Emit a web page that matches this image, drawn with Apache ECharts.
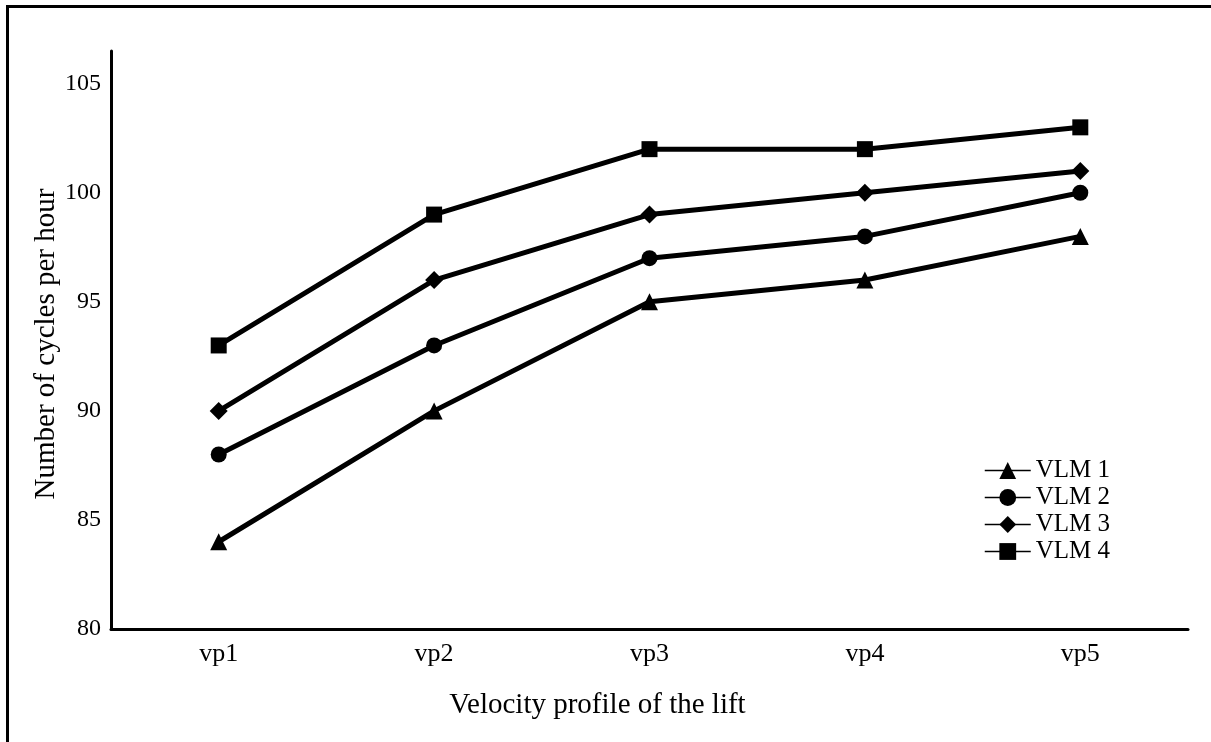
<!DOCTYPE html>
<html>
<head>
<meta charset="utf-8">
<script src="https://cdn.jsdelivr.net/npm/echarts@6/dist/echarts.min.js"></script>
<style>html,body{margin:0;padding:0;background:#fff}#c{width:1211px;height:742px}</style>
</head>
<body>
<div id="c"></div>
<script>
const categories = ['vp1', 'vp2', 'vp3', 'vp4', 'vp5'];
const seriesNames = ['VLM 1', 'VLM 2', 'VLM 3', 'VLM 4'];
const vlm1 = [84, 90, 95, 96, 98];
const vlm2 = [88, 93, 97, 98, 100];
const vlm3 = [90, 96, 99, 100, 101];
const vlm4 = [93, 99, 102, 102, 103];
const symbols = ['triangle', 'circle', 'diamond', 'rect'];

const font = 'Liberation Serif';
const chart = echarts.init(document.getElementById('c'));
const dataList = [vlm1, vlm2, vlm3, vlm4];
const symSizes = [17, 16, 18, 16];
chart.setOption({
  animation: false,
  backgroundColor: '#fff',
  grid: { left: 111, right: 23, top: 51, bottom: 113, containLabel: false },
  graphic: [
    { type: 'rect', shape: { x: 6, y: 5, width: 1205, height: 3 }, style: { fill: '#000' } },
    { type: 'rect', shape: { x: 6, y: 5, width: 3, height: 737 }, style: { fill: '#000' } }
  ],
  legend: {
    orient: 'vertical',
    left: 979,
    top: 453,
    itemWidth: 46,
    itemHeight: 21,
    itemGap: 2,
    textStyle: { fontFamily: font, fontSize: 25, lineHeight: 21, color: '#000' },
    lineStyle: { width: 1.5 },
    data: seriesNames
  },
  xAxis: {
    type: 'category',
    data: categories,
    boundaryGap: true,
    axisLine: { lineStyle: { color: '#000', width: 3 } },
    axisTick: { show: false },
    axisLabel: { fontFamily: font, fontSize: 26, color: '#000', margin: 12 },
    name: 'Velocity profile of the lift',
    nameLocation: 'middle',
    nameGap: 62,
    nameMoveOverlap: false,
    nameTextStyle: { fontFamily: font, fontSize: 29, color: '#000', padding: [0, 104, 0, 0] }
  },
  yAxis: {
    type: 'value',
    min: 80,
    max: 106.5,
    interval: 5,
    axisLine: { show: true, lineStyle: { color: '#000', width: 3 } },
    axisTick: { show: false },
    splitLine: { show: false },
    axisLabel: { fontFamily: font, fontSize: 24, color: '#000', margin: 10, showMaxLabel: false },
    name: 'Number of cycles per hour',
    nameLocation: 'middle',
    nameGap: 50,
    nameMoveOverlap: false,
    nameRotate: 90,
    nameTextStyle: { fontFamily: font, fontSize: 29, color: '#000', padding: [0, 8, 0, 0] }
  },
  series: seriesNames.map((n, i) => ({
    name: n,
    type: 'line',
    data: dataList[i],
    symbol: symbols[i],
    symbolSize: symSizes[i],
    showAllSymbol: true,
    lineStyle: { color: '#000', width: 5 },
    itemStyle: { color: '#000' }
  }))
});
</script>
</body>
</html>
